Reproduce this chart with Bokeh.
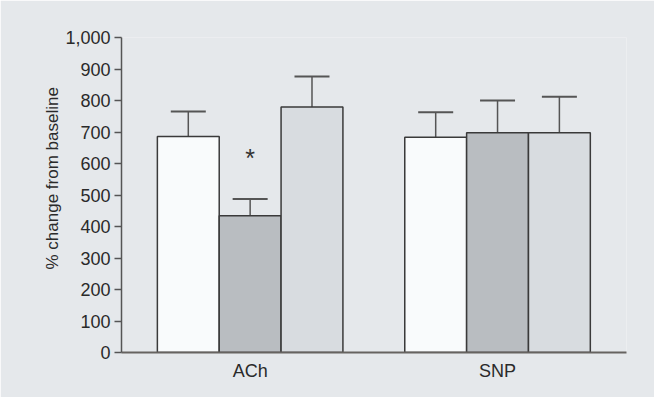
from bokeh.plotting import figure
from bokeh.models import (Range1d, FixedTicker, NumeralTickFormatter, ColumnDataSource,
                          Whisker, TeeHead, Title)
from bokeh.embed import file_html
from bokeh.resources import INLINE
from bokeh.core.properties import value

# ---- data ----
groups = ["ACh", "SNP"]
white_mean = [686, 683]
white_err_top = [765, 763]
dark_mean = [434, 698]
dark_err_top = [487, 800]
light_mean = [779, 698]
light_err_top = [876, 812]
y_ticks = [0, 100, 200, 300, 400, 500, 600, 700, 800, 900, 1000]
y_title = "% change from baseline"
star_group = "ACh"
star_series = 1
star_y = 625

series = [
    (white_mean, white_err_top, "#f9fbfc"),
    (dark_mean, dark_err_top, "#b9bdc1"),
    (light_mean, light_err_top, "#d8dce0"),
]

BG = "#e5e8eb"
FONT = "Liberation Sans"

p = figure(width=654, height=397, output_backend="svg", toolbar_location=None,
           x_range=Range1d(-1.08, 7.085), y_range=Range1d(0, 1000),
           min_border_left=121, min_border_right=28, min_border_top=37, min_border_bottom=45,
           background_fill_color=BG, border_fill_color=BG, outline_line_color=None)
p.grid.visible = False

n_series = len(series)
for s, (means, tops, color) in enumerate(series):
    xs = [g * (n_series + 1) + s for g in range(len(groups))]
    src = ColumnDataSource(dict(x=xs, top=means, upper=tops))
    p.vbar(x="x", top="top", bottom=0, width=1, source=src,
           fill_color=color, line_color="#3a3a3a", line_width=1.5)
    w = Whisker(base="x", upper="upper", lower="top", source=src,
                line_color="#555555", line_width=1.5,
                upper_head=TeeHead(size=35, line_color="#555555", line_width=2),
                lower_head=None)
    p.add_layout(w)

# significance marker
sx = groups.index(star_group) * (n_series + 1) + star_series
p.text(x=[sx], y=[star_y], text=["*"], text_align="center", text_baseline="middle",
       text_font=value(FONT), text_font_size="25px", text_color="#333333", y_offset=2)

# y axis
p.yaxis.ticker = FixedTicker(ticks=y_ticks)
p.yaxis.formatter = NumeralTickFormatter(format="0,0")
p.yaxis.minor_tick_line_color = None
p.yaxis.major_tick_in = 0
p.yaxis.major_tick_out = 7
p.yaxis.major_tick_line_color = "#555555"
p.yaxis.major_tick_line_width = 1.5
p.yaxis.axis_line_color = "#555555"
p.yaxis.axis_line_width = 1.5
p.yaxis.major_label_text_font = FONT
p.yaxis.major_label_text_font_size = "18px"
p.yaxis.major_label_text_color = "#2a2a2a"
p.yaxis.major_label_standoff = 4

# y title as a side title, starting a little above the frame bottom as in the original
p.add_layout(Title(text=y_title, align="left", offset=83, standoff=2,
                   text_font=FONT, text_font_size="17px", text_font_style="normal",
                   text_color="#2a2a2a"), "left")

# x axis
centers = [g * (n_series + 1) + (n_series - 1) / 2 for g in range(len(groups))]
p.xaxis.ticker = FixedTicker(ticks=centers)
p.xaxis.major_label_overrides = {c: g for c, g in zip(centers, groups)}
p.xaxis.minor_tick_line_color = None
p.xaxis.major_tick_line_color = None
p.xaxis.major_tick_in = 0
p.xaxis.major_tick_out = 0
p.xaxis.axis_line_color = "#666360"
p.xaxis.axis_line_width = 2
p.xaxis.major_label_text_font = FONT
p.xaxis.major_label_text_font_size = "18px"
p.xaxis.major_label_text_color = "#2a2a2a"
p.xaxis.major_label_standoff = 8

open("out.html", "w").write(file_html(p, INLINE))
